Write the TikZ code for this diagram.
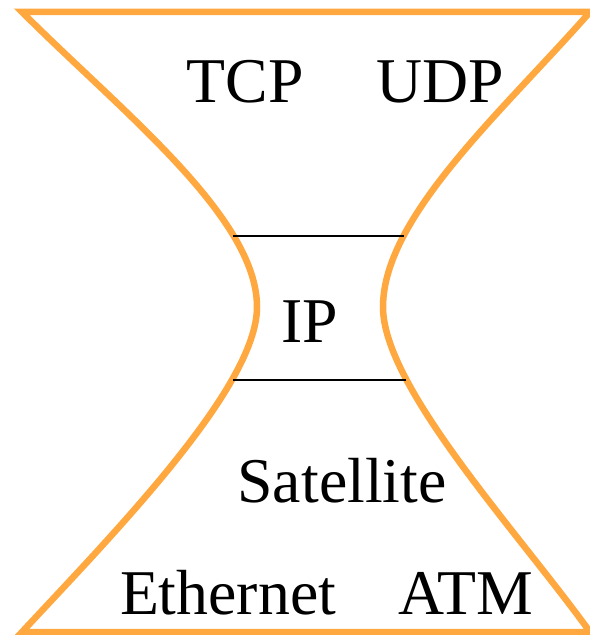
\documentclass[tikz,border=0pt]{standalone}
\usepackage{fontspec}
\setmainfont{Liberation Serif}
\definecolor{hgorange}{RGB}{255,168,64}
\begin{document}
\begin{tikzpicture}[x=1bp,y=-1bp,
  hg/.style={draw=hgorange,line width=6.5bp,line join=miter},
  layerline/.style={draw=black,line width=1.4bp},
  lbl/.style={anchor=base,inner sep=0pt,font=\fontsize{64}{70}\selectfont}]
\useasboundingbox (0,0) rectangle (590,635);
\draw[hg] (22,12) -- (590,12)
  .. controls (502,112) and (383,217) .. (383,307)
  .. controls (383,387) and (518,532) .. (590,632)
  -- (22,632)
  .. controls (115,532) and (257,387) .. (257,307)
  .. controls (257,217) and (122,112) .. (22,12) -- cycle;
\coordinate (l1) at (233,236); \coordinate (r1) at (404,236);
\coordinate (l2) at (233,380); \coordinate (r2) at (406,380);
\draw[layerline] (l1) -- (r1);
\draw[layerline] (l2) -- (r2);
\node[lbl] (tcp) at (245,103) {TCP};
\node[lbl] (udp) at (440,103) {UDP};
\node[lbl] (ip) at (310,342) {IP};
\node[lbl] (sat) at (342,502) {Satellite};
\node[lbl] (eth) at (228,614) {Ethernet};
\node[lbl] (atm) at (466,614) {ATM};
\end{tikzpicture}
\end{document}
